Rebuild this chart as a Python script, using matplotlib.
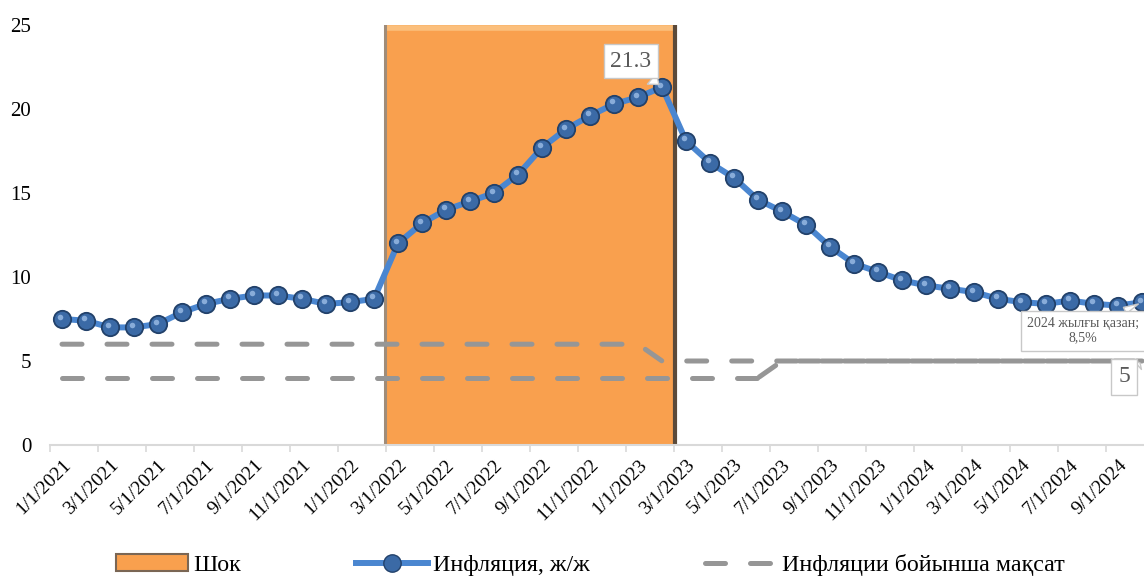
import matplotlib.pyplot as plt
from matplotlib.patches import Patch
from matplotlib.lines import Line2D
from matplotlib.transforms import ScaledTranslation

plt.rcParams['font.family'] = ['Liberation Serif', 'DejaVu Serif']

# monthly data, 1/2021 .. 10/2024
months = [f"{m}/1/{y}" for y in (2021, 2022, 2023, 2024) for m in range(1, 13)][:46]

inflation = [7.5, 7.4, 7.0, 7.0, 7.2, 7.9, 8.4, 8.7, 8.9, 8.9, 8.7, 8.4,
             8.5, 8.7, 12.0, 13.2, 14.0, 14.5, 15.0, 16.1, 17.7, 18.8, 19.6, 20.3,
             20.7, 21.3, 18.1, 16.8, 15.9, 14.6, 13.9, 13.1, 11.8, 10.8, 10.3, 9.8,
             9.5, 9.3, 9.1, 8.7, 8.5, 8.4, 8.6, 8.4, 8.3, 8.5]

target_upper = [6, 6, 6, 6, 6, 6, 6, 6, 6, 6, 6, 6,
                6, 6, 6, 6, 6, 6, 6, 6, 6, 6, 6, 6,
                6, 5, 5, 5, 5, 5, 5, 5, 5, 5, 5, 5,
                5, 5, 5, 5, 5, 5, 5, 5, 5, 5]

target_lower = [4, 4, 4, 4, 4, 4, 4, 4, 4, 4, 4, 4,
                4, 4, 4, 4, 4, 4, 4, 4, 4, 4, 4, 4,
                4, 4, 4, 4, 4, 4, 5, 5, 5, 5, 5, 5,
                5, 5, 5, 5, 5, 5, 5, 5, 5, 5]

shock = [0, 0, 0, 0, 0, 0, 0, 0, 0, 0, 0, 0,
         0, 0, 25, 25, 25, 25, 25, 25, 25, 25, 25, 25,
         25, 25, 0, 0, 0, 0, 0, 0, 0, 0, 0, 0,
         0, 0, 0, 0, 0, 0, 0, 0, 0, 0]

ORANGE = '#f9a04e'
BLUE_LINE = '#4a86d0'
GRAY = '#969696'
DASH = (4, 5)

x = list(range(len(months)))

fig = plt.figure(figsize=(11.44, 5.8), dpi=100)
ax = fig.add_axes([50 / 1144, 135 / 580, 1094 / 1144, 420 / 580])

# shock bars
ax.bar(x, shock, width=1.0, color=ORANGE, linewidth=0, zorder=1)
on = [i for i, v in enumerate(shock) if v > 0]
x0, x1 = on[0] - 0.5, on[-1] + 0.5
top = max(shock)
ax.plot([x0, x1], [top - 0.2, top - 0.2], color='#fbbf7c', lw=4, zorder=1.5,
        solid_capstyle='butt')
ax.plot([x0 - 0.06, x0 - 0.06], [0, top], color='#a08c78', lw=2.2, zorder=1.6)
ax.plot([x1 + 0.06, x1 + 0.06], [0, top], color='#5b4a3a', lw=3, zorder=1.6)

# target lines (lower one split so the overlapping part at 5 looks solid)
ax.plot(x, target_upper, color=GRAY, lw=3.6, linestyle=(0, DASH),
        dash_capstyle='round', zorder=2)
k = target_lower.index(max(target_lower)) - 1
ax.plot(x[:k + 1], target_lower[:k + 1], color=GRAY, lw=3.6, linestyle=(0, DASH),
        dash_capstyle='round', zorder=2)
ax.plot(x[k:], target_lower[k:], color=GRAY, lw=3.6, linestyle=(8.7, DASH),
        dash_capstyle='round', zorder=2)

# inflation line with sphere-like markers
ax.plot(x, inflation, color=BLUE_LINE, lw=4.3, marker='o', ms=12.5,
        mfc='#3b6aa6', mec='#22416a', mew=1.3, zorder=4)
hl = ax.transData + ScaledTranslation(-1.8 / 72, 1.8 / 72, fig.dpi_scale_trans)
ax.plot(x, inflation, 'o', ms=4, color='#9cbde6', mew=0, alpha=0.8,
        transform=hl, zorder=5)

# callouts
peak = inflation.index(max(inflation))
ax.annotate(f"{inflation[peak]}", xy=(x[peak], inflation[peak]), xytext=(23.7, 22.85),
            ha='center', va='center', fontsize=17, color='#595959', zorder=6,
            bbox=dict(boxstyle='square,pad=0.28', fc='white', ec='#c8c8c8', lw=1),
            arrowprops=dict(arrowstyle='wedge,tail_width=0.6', fc='white', ec='#c8c8c8',
                            shrinkA=0, shrinkB=3))
ax.annotate(f"2024 жылғы қазан;\n{inflation[-1]}%".replace('.', ','),
            xy=(x[-1], inflation[-1]), xytext=(42.55, 6.8),
            ha='center', va='center', fontsize=10, color='#595959', zorder=6,
            linespacing=1.1,
            bbox=dict(boxstyle='square,pad=0.45', fc='white', ec='#c8c8c8', lw=1),
            arrowprops=dict(arrowstyle='wedge,tail_width=0.5', fc='white', ec='#c8c8c8',
                            shrinkA=0, shrinkB=3))
ax.annotate(f"{target_upper[-1]}", xy=(x[-1], target_upper[-1]), xytext=(44.25, 4.05),
            ha='center', va='center', fontsize=17, color='#595959', zorder=6,
            bbox=dict(boxstyle='square,pad=0.3', fc='white', ec='#c8c8c8', lw=1),
            arrowprops=dict(arrowstyle='wedge,tail_width=0.5', fc='white', ec='#c8c8c8',
                            shrinkA=0, shrinkB=2))

# axes styling
ax.set_xlim(-0.5, 45.08)
ax.set_ylim(0, 25)
ax.set_yticks([0, 5, 10, 15, 20, 25])
ax.tick_params(axis='y', length=0, pad=13.5, labelsize=15)
ax.set_xticks(x[::2])
ax.set_xticklabels(months[::2], rotation=45, ha='right', rotation_mode='anchor')
ax.set_xticks([v - 0.5 for v in x[::2]], minor=True)
ax.tick_params(axis='x', which='major', length=0, pad=8, labelsize=14)
ax.tick_params(axis='x', which='minor', length=5, width=1.2, color='#d9d9d9')
for s in ('top', 'right', 'left'):
    ax.spines[s].set_visible(False)
ax.spines['bottom'].set_color('#d9d9d9')
ax.spines['bottom'].set_linewidth(1.5)

handles = [
    Patch(facecolor=ORANGE, edgecolor='#7a6654', lw=1.5),
    Line2D([], [], color=BLUE_LINE, lw=4.3, marker='o', ms=12.5, mfc='#3b6aa6',
           mec='#22416a'),
    Line2D([], [], color=GRAY, lw=3.6, linestyle=(0, DASH), dash_capstyle='round'),
]
fig.legend(handles, ['Шок', 'Инфляция, ж/ж', 'Инфляции бойынша мақсат'],
           loc='center', bbox_to_anchor=(0.516, 0.026), ncol=3, frameon=False,
           fontsize=17.3, handlelength=3.0, handleheight=0.7, handletextpad=0.2,
           columnspacing=4.8)

fig.savefig('out.png', dpi=100)
